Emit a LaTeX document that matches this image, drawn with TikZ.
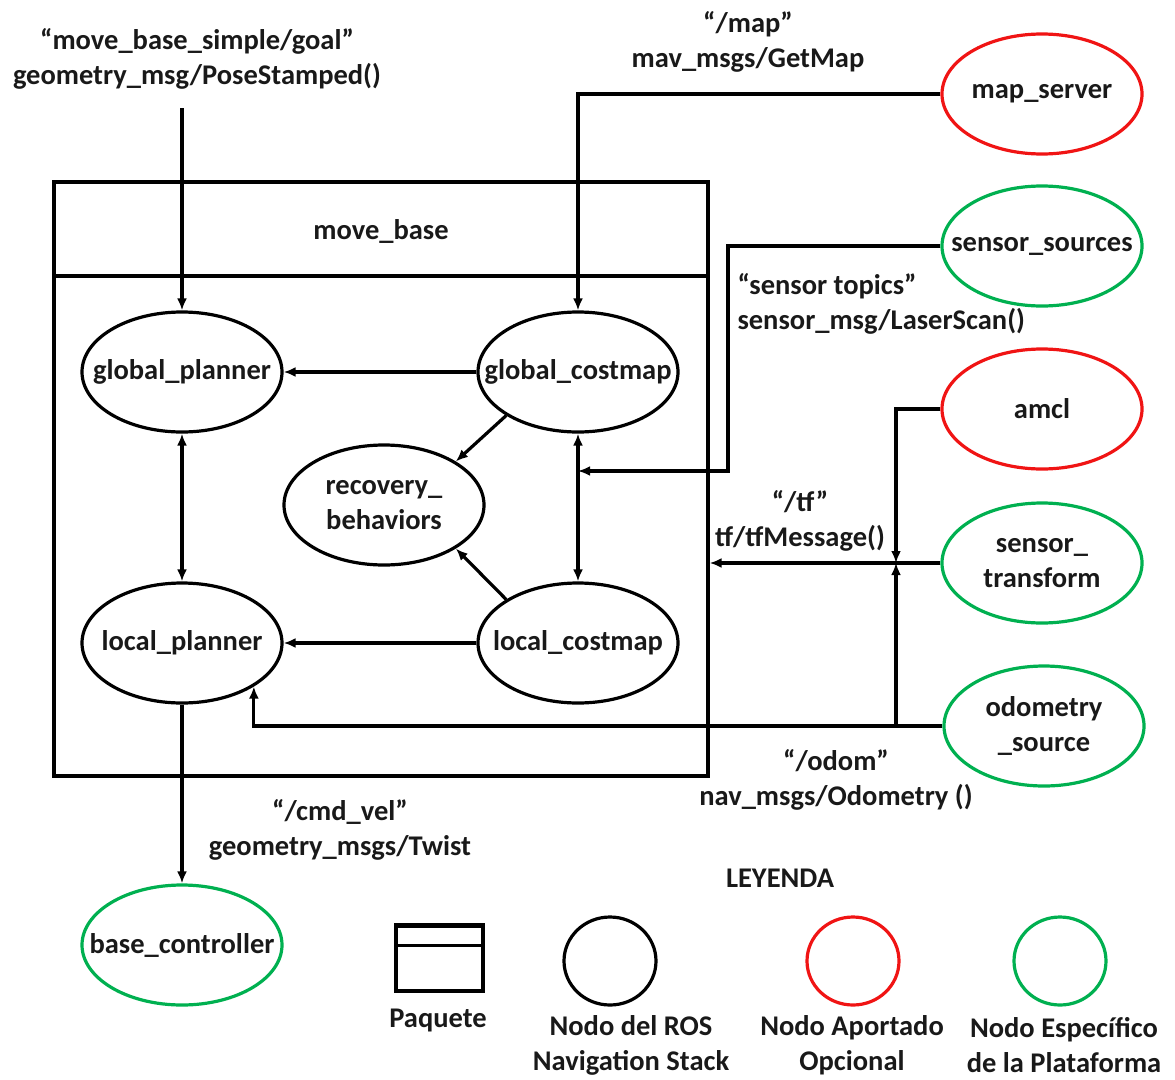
\documentclass[tikz,border=0pt]{standalone}
\usepackage{fontspec}
\setmainfont{Carlito}
\usetikzlibrary{arrows.meta,shapes.geometric}
\definecolor{optred}{RGB}{240,20,20}
\definecolor{platgreen}{RGB}{0,176,80}
\definecolor{ink}{RGB}{25,25,25}
\begin{document}
\begin{tikzpicture}[x=1pt,y=-1pt,
  every node/.style={font=\fontsize{28.5}{35}\selectfont\bfseries, text=ink},
  every label/.style={align=center},
  rosnode/.style={ellipse, draw=black, line width=3.2pt, inner sep=0pt,
    minimum width=200pt, minimum height=120pt},
  optnode/.style={rosnode, draw=optred},
  platnode/.style={rosnode, draw=platgreen},
  lbl/.style={align=center},
  leglbl/.style={align=center, inner sep=1pt},
  conn/.style={line width=3.2pt, draw=black},
  tip/.style={-{Latex[length=12pt,width=10pt]}},
  arr/.style={conn, tip},
  darr/.style={conn, {Latex[length=12pt,width=10pt]}-{Latex[length=12pt,width=10pt]}},
  pkg/.style={draw=black, line width=3.2pt, inner sep=0pt},
  legcircle/.style={ellipse, draw=black, line width=3.2pt, minimum width=92pt, minimum height=88pt}
]
\useasboundingbox (0,0) rectangle (1175,1079);

% move_base package
\node[pkg, minimum width=654pt, minimum height=594pt] (mb) at (381,479) {};
\draw[conn] (mb.west |- 0,276) coordinate (divl) -- (mb.east |- 0,276) coordinate (divr);
\node (mbname) at (381,231) {move\_base};

% nodes inside the package
\node[rosnode, label=center:global\_planner] (gp) at (182,372) {};
\node[rosnode, label=center:global\_costmap] (gc) at (578,372) {};
\node[rosnode, label={center:recovery\_\\behaviors}] (rb) at (384,505) {};
\node[rosnode, label=center:local\_planner] (lp) at (182,643) {};
\node[rosnode, label=center:local\_costmap] (lc) at (578,643) {};

% external nodes
\node[platnode, label=center:base\_controller] (bc) at (182,945) {};
\node[optnode, label=center:map\_server] (ms) at (1042,94) {};
\node[platnode, label=center:sensor\_sources] (ss) at (1042,246) {};
\node[optnode, label=center:amcl] (am) at (1042,409) {};
\node[platnode, label={center:sensor\_\\transform}] (st) at (1042,563) {};
\node[platnode, label={center:odometry\\\_source}] (od) at (1044,726) {};

% topic labels
\node[lbl] (goallbl) at (197,59) {“move\_base\_simple/goal”\\geometry\_msg/PoseStamped()};
\node[lbl] (maplbl) at (748,42) {“/map”\\mav\_msgs/GetMap};
\node[align=left, anchor=west] (senslbl) at (734,304) {“sensor topics”\\sensor\_msg/LaserScan()};
\node[lbl] (tflbl) at (800,521) {“/tf”\\tf/tfMessage()};
\node[lbl] (odomlbl) at (836,780) {“/odom”\\nav\_msgs/Odometry ()};
\node[lbl] (cmdlbl) at (340,830) {“/cmd\_vel”\\geometry\_msgs/Twist};

% junction points
\coordinate (goalsrc) at (182,108);
\coordinate (sbend) at (728,471);
\coordinate (tfj) at (896,563);

% connectors
\draw[arr] (goalsrc) -- (gp.north);
\draw[arr] (ms.west) -| (gc.north);
\draw[arr] (ss.west) -| (sbend) -- (sbend -| gc.south);
\draw[darr] (gc.south) -- (lc.north);
\draw[arr] (gc.west) -- (gp.east);
\draw[arr] (gc.south west) -- (rb.north east);
\draw[arr] (lc.north west) -- (rb.south east);
\draw[arr] (lc.west) -- (lp.east);
\draw[darr] (gp.south) -- (lp.north);
\draw[arr] (lp.south) -- (bc.north);
\draw[arr] (am.west) -| (tfj);
\draw[arr] (st.west) -- (st.west -| mb.east);
\draw[arr] (od.west) -| (lp.south east);
\draw[arr] (tfj |- od.west) -- (tfj);

% legend
\node (leyenda) at (780,878) {LEYENDA};
\node[pkg, minimum width=87pt, minimum height=66pt] (lgpkg) at (439.5,958) {};
\draw[conn] (lgpkg.north west) ++(0,22) -- ++(87,0);
\fill[black] (lgpkg.north west) rectangle ++(87,5);
\node[leglbl] (lgpkgtxt) at (438,1020) {Paquete};
\node[legcircle] (lgros) at (610,961) {};
\node[legcircle, draw=optred] (lgopt) at (853,961) {};
\node[legcircle, draw=platgreen] (lgplat) at (1060,961) {};
\node[leglbl] (lgrostxt) at (631,1045) {Nodo del ROS\\Navigation Stack};
\node[leglbl] (lgopttxt) at (852,1045) {Nodo Aportado\\Opcional};
\node[leglbl] (lgplattxt) at (1064,1045) {Nodo Específico\\de la Plataforma};
\end{tikzpicture}
\end{document}
